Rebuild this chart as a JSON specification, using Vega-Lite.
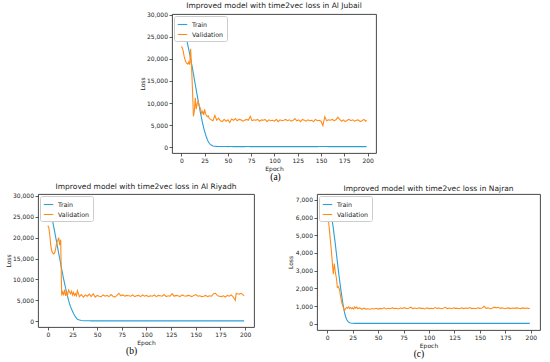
{
  "$schema": "https://vega.github.io/schema/vega-lite/v6.json",
  "padding": {"left": 4, "top": 1, "right": 0, "bottom": 0},
  "background": "white",
  "resolve": {"scale": {"color": "independent"}, "legend": {"color": "independent"}},
  "config": {
    "view": {"stroke": "#333", "strokeWidth": 0.9},
    "font": "DejaVu Sans",
    "title": {"font": "DejaVu Sans", "fontSize": 7.5, "fontWeight": "normal", "color": "#222", "offset": 2},
    "axis": {
      "labelFont": "DejaVu Sans", "labelFontSize": 6, "labelColor": "#222",
      "titleFont": "DejaVu Sans", "titleFontSize": 6, "titleFontWeight": "normal", "titleColor": "#222",
      "grid": false, "domain": false, "tickColor": "#333", "tickSize": 3, "tickWidth": 0.8,
      "labelPadding": 1.5, "titlePadding": 1.5
    },
    "legend": {
      "orient": "top-left", "offset": 2, "title": null, "fillColor": "white", "strokeColor": "#ccc",
      "cornerRadius": 2, "padding": 3, "labelFontSize": 6.3, "labelFont": "DejaVu Sans", "labelColor": "#222",
      "symbolType": "stroke", "symbolSize": 90, "symbolStrokeWidth": 1.2, "rowPadding": 1
    },
    "line": {"strokeWidth": 1.1}
  },
  "datasets": {
    "a": [
      {"e":0,"Train":28700,"Validation":22800},{"e":1,"Train":28100,"Validation":22500},{"e":2,"Train":27400,"Validation":21800},{"e":3,"Train":26700,"Validation":20600},{"e":4,"Train":25900,"Validation":19800},{"e":5,"Train":25000,"Validation":19300},{"e":6,"Train":24100,"Validation":19000},{"e":7,"Train":23100,"Validation":18800},{"e":8,"Train":22100,"Validation":19300},{"e":9,"Train":21100,"Validation":18700},{"e":10,"Train":20000,"Validation":22300},{"e":11,"Train":18900,"Validation":18200},{"e":12,"Train":17800,"Validation":13000},{"e":13,"Train":16600,"Validation":7000},{"e":14,"Train":15400,"Validation":8200},{"e":15,"Train":14200,"Validation":11200},{"e":16,"Train":13000,"Validation":8600},{"e":17,"Train":11800,"Validation":9800},{"e":18,"Train":10600,"Validation":10400},{"e":19,"Train":9500,"Validation":9600},{"e":20,"Train":8400,"Validation":9000},{"e":21,"Train":7300,"Validation":8400},{"e":22,"Train":6300,"Validation":7600},{"e":23,"Train":5300,"Validation":8100},{"e":24,"Train":4400,"Validation":7300},{"e":25,"Train":3600,"Validation":8600},{"e":26,"Train":2900,"Validation":7600},{"e":27,"Train":2250,"Validation":7200},{"e":28,"Train":1700,"Validation":6900},{"e":29,"Train":1250,"Validation":7100},{"e":30,"Train":900,"Validation":6500},
      {"e":32,"Train":500,"Validation":6200},{"e":34,"Train":300,"Validation":6000},{"e":36,"Train":220,"Validation":7200},{"e":38,"Train":190,"Validation":6100},{"e":40,"Train":175,"Validation":6600},{"e":42,"Train":165,"Validation":6000},{"e":44,"Train":160,"Validation":5800},{"e":46,"Train":155,"Validation":6300},{"e":48,"Train":160,"Validation":5900},{"e":50,"Train":150,"Validation":6200},{"e":52,"Train":155,"Validation":5600},{"e":54,"Train":160,"Validation":6400},{"e":56,"Train":150,"Validation":6100},{"e":58,"Train":155,"Validation":6500},{"e":60,"Train":150,"Validation":6000},{"e":62,"Train":160,"Validation":6300},{"e":64,"Train":150,"Validation":6200},{"e":66,"Train":155,"Validation":5900},{"e":68,"Train":150,"Validation":6100},{"e":70,"Train":160,"Validation":6300},{"e":72,"Train":155,"Validation":6100},{"e":74,"Train":150,"Validation":7000},{"e":76,"Train":155,"Validation":6000},{"e":78,"Train":150,"Validation":6200},{"e":80,"Train":160,"Validation":6100},{"e":82,"Train":150,"Validation":6300},{"e":84,"Train":155,"Validation":5900},{"e":86,"Train":150,"Validation":6200},{"e":88,"Train":160,"Validation":6100},{"e":90,"Train":150,"Validation":6300},{"e":92,"Train":155,"Validation":5800},{"e":94,"Train":150,"Validation":6200},{"e":96,"Train":160,"Validation":6000},{"e":98,"Train":150,"Validation":6100},{"e":100,"Train":155,"Validation":5900},{"e":102,"Train":150,"Validation":6300},{"e":104,"Train":160,"Validation":5800},{"e":106,"Train":150,"Validation":6200},{"e":108,"Train":155,"Validation":6000},{"e":110,"Train":150,"Validation":6100},{"e":112,"Train":160,"Validation":6300},{"e":114,"Train":150,"Validation":6000},{"e":116,"Train":155,"Validation":6200},{"e":118,"Train":150,"Validation":5900},{"e":120,"Train":160,"Validation":6100},{"e":122,"Train":150,"Validation":6500},{"e":124,"Train":155,"Validation":6000},{"e":126,"Train":150,"Validation":6200},{"e":128,"Train":160,"Validation":5800},{"e":130,"Train":150,"Validation":6300},{"e":132,"Train":155,"Validation":6100},{"e":134,"Train":150,"Validation":5900},{"e":136,"Train":160,"Validation":6200},{"e":138,"Train":150,"Validation":6000},{"e":140,"Train":155,"Validation":6100},{"e":142,"Train":150,"Validation":5800},{"e":144,"Train":160,"Validation":6300},{"e":146,"Train":150,"Validation":6000},{"e":148,"Train":155,"Validation":6100},{"e":150,"Train":170,"Validation":5900},{"e":152,"Train":165,"Validation":4900},{"e":154,"Train":160,"Validation":6900},{"e":156,"Train":155,"Validation":6000},{"e":158,"Train":150,"Validation":6200},{"e":160,"Train":160,"Validation":6100},{"e":162,"Train":150,"Validation":6300},{"e":164,"Train":155,"Validation":6000},{"e":166,"Train":150,"Validation":6200},{"e":168,"Train":160,"Validation":6800},{"e":170,"Train":150,"Validation":6300},{"e":172,"Train":155,"Validation":5900},{"e":174,"Train":150,"Validation":6200},{"e":176,"Train":160,"Validation":5800},{"e":178,"Train":150,"Validation":6100},{"e":180,"Train":155,"Validation":6300},{"e":182,"Train":150,"Validation":6000},{"e":184,"Train":160,"Validation":6200},{"e":186,"Train":150,"Validation":5900},{"e":188,"Train":155,"Validation":6100},{"e":190,"Train":150,"Validation":6200},{"e":192,"Train":160,"Validation":5800},{"e":194,"Train":150,"Validation":6000},{"e":196,"Train":155,"Validation":6300},{"e":198,"Train":150,"Validation":5900},{"e":199,"Train":155,"Validation":6100}
    ],
    "b": [
      {"e":0,"Train":29200,"Validation":22800},{"e":1,"Train":28200,"Validation":22300},{"e":2,"Train":27100,"Validation":20500},{"e":3,"Train":26000,"Validation":18000},{"e":4,"Train":24900,"Validation":16800},{"e":5,"Train":23700,"Validation":16300},{"e":6,"Train":22500,"Validation":16100},{"e":7,"Train":21300,"Validation":16400},{"e":8,"Train":20000,"Validation":17500},{"e":9,"Train":18800,"Validation":18800},{"e":10,"Train":17500,"Validation":19300},{"e":11,"Train":16200,"Validation":20000},{"e":12,"Train":15000,"Validation":18200},{"e":13,"Train":13700,"Validation":19500},{"e":14,"Train":12500,"Validation":6200},{"e":15,"Train":11300,"Validation":7000},{"e":16,"Train":10100,"Validation":6400},{"e":17,"Train":9000,"Validation":7600},{"e":18,"Train":7900,"Validation":6100},{"e":19,"Train":6900,"Validation":6900},{"e":20,"Train":5900,"Validation":6300},{"e":21,"Train":5000,"Validation":7500},{"e":22,"Train":4200,"Validation":7000},{"e":23,"Train":3500,"Validation":6600},{"e":24,"Train":2900,"Validation":7200},{"e":25,"Train":2400,"Validation":6300},{"e":26,"Train":1900,"Validation":6900},{"e":27,"Train":1450,"Validation":6200},{"e":28,"Train":1050,"Validation":6600},{"e":29,"Train":750,"Validation":6100},{"e":30,"Train":520,"Validation":7300},
      {"e":32,"Train":300,"Validation":5900},{"e":34,"Train":200,"Validation":6400},{"e":36,"Train":160,"Validation":5800},{"e":38,"Train":140,"Validation":6300},{"e":40,"Train":130,"Validation":6000},{"e":42,"Train":125,"Validation":6500},{"e":44,"Train":120,"Validation":5900},{"e":46,"Train":120,"Validation":6600},{"e":48,"Train":115,"Validation":5800},{"e":50,"Train":120,"Validation":6200},{"e":52,"Train":115,"Validation":6000},{"e":54,"Train":120,"Validation":5900},{"e":56,"Train":115,"Validation":6300},{"e":58,"Train":120,"Validation":6000},{"e":60,"Train":115,"Validation":6200},{"e":62,"Train":120,"Validation":5900},{"e":64,"Train":115,"Validation":6400},{"e":66,"Train":120,"Validation":6000},{"e":68,"Train":115,"Validation":5800},{"e":70,"Train":120,"Validation":6200},{"e":72,"Train":115,"Validation":6700},{"e":74,"Train":120,"Validation":6100},{"e":76,"Train":115,"Validation":6300},{"e":78,"Train":120,"Validation":6000},{"e":80,"Train":115,"Validation":6200},{"e":82,"Train":120,"Validation":6100},{"e":84,"Train":115,"Validation":6000},{"e":86,"Train":120,"Validation":6300},{"e":88,"Train":115,"Validation":5900},{"e":90,"Train":120,"Validation":6100},{"e":92,"Train":115,"Validation":6200},{"e":94,"Train":120,"Validation":5900},{"e":96,"Train":115,"Validation":6300},{"e":98,"Train":120,"Validation":6000},{"e":100,"Train":115,"Validation":6200},{"e":102,"Train":120,"Validation":5900},{"e":104,"Train":115,"Validation":6100},{"e":106,"Train":120,"Validation":6000},{"e":108,"Train":115,"Validation":6300},{"e":110,"Train":120,"Validation":5900},{"e":112,"Train":115,"Validation":6200},{"e":114,"Train":120,"Validation":6100},{"e":116,"Train":115,"Validation":6000},{"e":118,"Train":120,"Validation":6400},{"e":120,"Train":115,"Validation":5900},{"e":122,"Train":120,"Validation":6100},{"e":124,"Train":115,"Validation":6000},{"e":126,"Train":120,"Validation":6600},{"e":128,"Train":115,"Validation":6000},{"e":130,"Train":120,"Validation":6200},{"e":132,"Train":115,"Validation":6100},{"e":134,"Train":120,"Validation":5900},{"e":136,"Train":115,"Validation":6300},{"e":138,"Train":120,"Validation":6100},{"e":140,"Train":115,"Validation":6000},{"e":142,"Train":120,"Validation":6200},{"e":144,"Train":115,"Validation":6100},{"e":146,"Train":120,"Validation":5900},{"e":148,"Train":115,"Validation":6200},{"e":150,"Train":120,"Validation":6400},{"e":152,"Train":115,"Validation":6000},{"e":154,"Train":120,"Validation":6100},{"e":156,"Train":115,"Validation":5900},{"e":158,"Train":120,"Validation":6000},{"e":160,"Train":115,"Validation":6200},{"e":162,"Train":120,"Validation":5900},{"e":164,"Train":115,"Validation":6100},{"e":166,"Train":120,"Validation":6000},{"e":168,"Train":115,"Validation":6600},{"e":170,"Train":120,"Validation":6700},{"e":172,"Train":115,"Validation":6100},{"e":174,"Train":120,"Validation":6000},{"e":176,"Train":115,"Validation":5900},{"e":178,"Train":120,"Validation":6100},{"e":180,"Train":115,"Validation":5800},{"e":182,"Train":120,"Validation":6200},{"e":184,"Train":115,"Validation":6000},{"e":186,"Train":120,"Validation":6300},{"e":188,"Train":115,"Validation":5800},{"e":190,"Train":120,"Validation":5000},{"e":191,"Train":115,"Validation":6700},{"e":192,"Train":120,"Validation":6600},{"e":194,"Train":115,"Validation":6500},{"e":196,"Train":120,"Validation":6700},{"e":198,"Train":115,"Validation":6300},{"e":199,"Train":120,"Validation":6100}
    ],
    "c": [
      {"e":0,"Train":7000,"Validation":6400},{"e":1,"Train":6900,"Validation":6000},{"e":2,"Train":6700,"Validation":5400},{"e":3,"Train":6450,"Validation":4800},{"e":4,"Train":6150,"Validation":4200},{"e":5,"Train":5800,"Validation":3500},{"e":6,"Train":5400,"Validation":2800},{"e":7,"Train":4950,"Validation":3400},{"e":8,"Train":4500,"Validation":2900},{"e":9,"Train":4000,"Validation":2600},{"e":10,"Train":3500,"Validation":2050},{"e":11,"Train":3000,"Validation":2100},{"e":12,"Train":2550,"Validation":1950},{"e":13,"Train":2100,"Validation":1600},{"e":14,"Train":1700,"Validation":1300},{"e":15,"Train":1300,"Validation":1050},{"e":16,"Train":950,"Validation":900},{"e":17,"Train":650,"Validation":740},{"e":18,"Train":420,"Validation":850},{"e":19,"Train":260,"Validation":920},{"e":20,"Train":160,"Validation":880},{"e":21,"Train":100,"Validation":950},{"e":22,"Train":65,"Validation":870},{"e":23,"Train":45,"Validation":920},{"e":24,"Train":35,"Validation":850},{"e":25,"Train":30,"Validation":900},{"e":26,"Train":28,"Validation":830},{"e":27,"Train":26,"Validation":950},{"e":28,"Train":25,"Validation":880},{"e":29,"Train":25,"Validation":940},{"e":30,"Train":25,"Validation":860},
      {"e":32,"Train":25,"Validation":900},{"e":34,"Train":24,"Validation":820},{"e":36,"Train":25,"Validation":880},{"e":38,"Train":24,"Validation":830},{"e":40,"Train":25,"Validation":850},{"e":42,"Train":24,"Validation":820},{"e":44,"Train":25,"Validation":860},{"e":46,"Train":24,"Validation":840},{"e":48,"Train":25,"Validation":880},{"e":50,"Train":24,"Validation":830},{"e":52,"Train":25,"Validation":870},{"e":54,"Train":24,"Validation":850},{"e":56,"Train":25,"Validation":900},{"e":58,"Train":24,"Validation":840},{"e":60,"Train":25,"Validation":880},{"e":62,"Train":24,"Validation":850},{"e":64,"Train":25,"Validation":900},{"e":66,"Train":24,"Validation":860},{"e":68,"Train":25,"Validation":880},{"e":70,"Train":24,"Validation":840},{"e":72,"Train":25,"Validation":890},{"e":74,"Train":24,"Validation":870},{"e":76,"Train":25,"Validation":910},{"e":78,"Train":24,"Validation":850},{"e":80,"Train":25,"Validation":880},{"e":82,"Train":24,"Validation":940},{"e":84,"Train":25,"Validation":860},{"e":86,"Train":24,"Validation":890},{"e":88,"Train":25,"Validation":850},{"e":90,"Train":24,"Validation":900},{"e":92,"Train":25,"Validation":870},{"e":94,"Train":24,"Validation":880},{"e":96,"Train":25,"Validation":840},{"e":98,"Train":24,"Validation":900},{"e":100,"Train":25,"Validation":860},{"e":102,"Train":24,"Validation":880},{"e":104,"Train":25,"Validation":850},{"e":106,"Train":24,"Validation":920},{"e":108,"Train":25,"Validation":870},{"e":110,"Train":24,"Validation":890},{"e":112,"Train":25,"Validation":850},{"e":114,"Train":24,"Validation":880},{"e":116,"Train":25,"Validation":930},{"e":118,"Train":24,"Validation":860},{"e":120,"Train":25,"Validation":890},{"e":122,"Train":24,"Validation":850},{"e":124,"Train":25,"Validation":900},{"e":126,"Train":24,"Validation":870},{"e":128,"Train":25,"Validation":880},{"e":130,"Train":24,"Validation":850},{"e":132,"Train":25,"Validation":900},{"e":134,"Train":24,"Validation":860},{"e":136,"Train":25,"Validation":890},{"e":138,"Train":24,"Validation":870},{"e":140,"Train":25,"Validation":920},{"e":142,"Train":24,"Validation":860},{"e":144,"Train":25,"Validation":880},{"e":146,"Train":24,"Validation":850},{"e":148,"Train":25,"Validation":900},{"e":150,"Train":24,"Validation":870},{"e":152,"Train":25,"Validation":890},{"e":154,"Train":24,"Validation":990},{"e":156,"Train":25,"Validation":870},{"e":158,"Train":24,"Validation":900},{"e":160,"Train":25,"Validation":850},{"e":162,"Train":24,"Validation":880},{"e":164,"Train":25,"Validation":940},{"e":166,"Train":24,"Validation":900},{"e":168,"Train":25,"Validation":930},{"e":170,"Train":24,"Validation":870},{"e":172,"Train":25,"Validation":900},{"e":174,"Train":24,"Validation":850},{"e":176,"Train":25,"Validation":880},{"e":178,"Train":24,"Validation":900},{"e":180,"Train":25,"Validation":860},{"e":182,"Train":24,"Validation":890},{"e":184,"Train":25,"Validation":870},{"e":186,"Train":24,"Validation":900},{"e":188,"Train":25,"Validation":880},{"e":190,"Train":24,"Validation":860},{"e":192,"Train":25,"Validation":900},{"e":194,"Train":24,"Validation":870},{"e":196,"Train":25,"Validation":890},{"e":198,"Train":24,"Validation":860},{"e":199,"Train":25,"Validation":880}
    ]
  },
  "vconcat": [
    {
      "resolve": {"scale": {"color": "independent"}, "legend": {"color": "independent"}},
      "hconcat": [
        {"width": 1, "height": 1, "data": {"values": []}, "mark": "point", "view": {"stroke": null}},
        {
          "title": {"text": "(a)", "orient": "bottom", "anchor": "middle", "font": "Liberation Serif", "fontSize": 9.5, "color": "#000", "offset": 1, "dx": 18},
          "resolve": {"scale": {"color": "independent"}, "legend": {"color": "independent"}},
          "vconcat": [
            {
              "title": "Improved model with time2vec loss in Al Jubail",
              "width": 204, "height": 139,
              "view": {"stroke": "#333", "strokeWidth": 0.9},
              "data": {"name": "a"},
              "transform": [{"fold": ["Train", "Validation"], "as": ["series", "loss"]}],
              "mark": "line",
              "encoding": {
                "x": {"field": "e", "type": "quantitative", "title": "Epoch", "scale": {"domain": [-10, 209], "nice": false, "zero": false}, "axis": {"values": [0,25,50,75,100,125,150,175,200]}},
                "y": {"field": "loss", "type": "quantitative", "title": "Loss", "scale": {"domain": [-1300, 30150], "nice": false}, "axis": {"values": [0,5000,10000,15000,20000,25000,30000], "format": ",d"}},
                "color": {"field": "series", "type": "nominal", "scale": {"domain": ["Train", "Validation"], "range": ["#2b9fd8", "#ff8c1a"]}}
              }
            }
          ]
        }
      ],
      "spacing": 99
    },
    {
      "resolve": {"scale": {"color": "independent"}, "legend": {"color": "independent"}},
      "hconcat": [
        {
          "title": {"text": "(b)", "orient": "bottom", "anchor": "middle", "font": "Liberation Serif", "fontSize": 9.5, "color": "#000", "offset": 1, "dx": 2},
          "resolve": {"scale": {"color": "independent"}, "legend": {"color": "independent"}},
          "vconcat": [
            {
              "title": "Improved model with time2vec loss in Al Riyadh",
              "width": 216, "height": 133,
              "view": {"stroke": "#333", "strokeWidth": 0.9},
              "data": {"name": "b"},
              "transform": [{"fold": ["Train", "Validation"], "as": ["series", "loss"]}],
              "mark": "line",
              "encoding": {
                "x": {"field": "e", "type": "quantitative", "title": "Epoch", "scale": {"domain": [-10, 209], "nice": false, "zero": false}, "axis": {"values": [0,25,50,75,100,125,150,175,200]}},
                "y": {"field": "loss", "type": "quantitative", "title": "Loss", "scale": {"domain": [-1350, 30400], "nice": false}, "axis": {"values": [0,5000,10000,15000,20000,25000,30000], "format": ",d"}},
                "color": {"field": "series", "type": "nominal", "scale": {"domain": ["Train", "Validation"], "range": ["#2b9fd8", "#ff8c1a"]}}
              }
            }
          ]
        },
        {
          "title": {"text": "(c)", "orient": "bottom", "anchor": "middle", "font": "Liberation Serif", "fontSize": 9.5, "color": "#000", "offset": 1, "dx": 5},
          "resolve": {"scale": {"color": "independent"}, "legend": {"color": "independent"}},
          "vconcat": [
            {
              "title": "Improved model with time2vec loss in Najran",
              "width": 223, "height": 136,
              "view": {"stroke": "#333", "strokeWidth": 0.9},
              "data": {"name": "c"},
              "transform": [{"fold": ["Train", "Validation"], "as": ["series", "loss"]}],
              "mark": "line",
              "encoding": {
                "x": {"field": "e", "type": "quantitative", "title": "Epoch", "scale": {"domain": [-10, 209], "nice": false, "zero": false}, "axis": {"values": [0,25,50,75,100,125,150,175,200]}},
                "y": {"field": "loss", "type": "quantitative", "title": "Loss", "scale": {"domain": [-350, 7330], "nice": false}, "axis": {"values": [0,1000,2000,3000,4000,5000,6000,7000], "format": ",d"}},
                "color": {"field": "series", "type": "nominal", "scale": {"domain": ["Train", "Validation"], "range": ["#2b9fd8", "#ff8c1a"]}}
              }
            }
          ]
        }
      ],
      "spacing": 32
    }
  ],
  "spacing": 0
}
